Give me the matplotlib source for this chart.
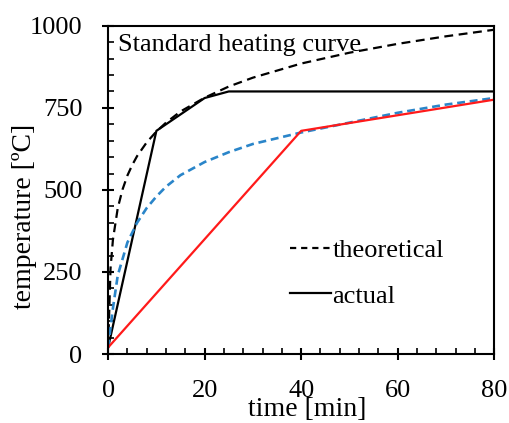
import matplotlib
matplotlib.use("Agg")
import matplotlib.pyplot as plt
from matplotlib.lines import Line2D
from matplotlib.ticker import MultipleLocator

plt.rcParams['font.family'] = ['Liberation Serif', 'DejaVu Serif']

# standard heating curve (theoretical, black dashed)
std_t = [0, 0.5, 1, 2, 3, 4, 5, 6, 8, 10, 12, 15, 20, 25, 30, 40, 50, 60, 70, 80]
std_T = [20, 261, 349, 445, 502, 544, 576, 603, 645, 678, 705, 739, 781, 815, 842, 885, 918, 945, 968, 988]

# actual furnace curve (black solid)
act_t = [0, 10, 20, 25, 80]
act_T = [20, 680, 780, 800, 800]

# blue dashed curve
blue_t = [0, 1, 2, 4, 6, 8, 10, 12, 15, 20, 25, 30, 40, 50, 60, 70, 80]
blue_T = [20, 140, 240, 340, 400, 445, 480, 510, 545, 585, 615, 640, 675, 705, 735, 760, 780]

# red solid curve
red_t = [0, 40, 80]
red_T = [20, 680, 775]

fig = plt.figure(figsize=(5.10, 4.23), dpi=100)
ax = fig.add_axes([0.212, 0.163, 0.757, 0.776])

ax.plot(std_t, std_T, color='black', lw=1.6, ls=(0, (4, 2.5)))
ax.plot(act_t, act_T, color='black', lw=1.6)
ax.plot(blue_t, blue_T, color='#2a85c9', lw=1.9, ls=(0, (3, 1.8)))
ax.plot(red_t, red_T, color='#ff1a1a', lw=1.6)

ax.set_xlim(0, 80)
ax.set_ylim(0, 1000)
ax.xaxis.set_major_locator(MultipleLocator(20))
ax.xaxis.set_minor_locator(MultipleLocator(4))
ax.yaxis.set_major_locator(MultipleLocator(250))
ax.yaxis.set_minor_locator(MultipleLocator(50))
ax.tick_params(which='major', direction='inout', length=9, width=1.5, labelsize=19)
ax.tick_params(axis='x', which='major', pad=14)
ax.tick_params(axis='y', which='major', pad=14)
ax.tick_params(which='minor', direction='in', length=4, width=1.2)
for s in ax.spines.values():
    s.set_linewidth(1.5)

ax.set_xlabel('time [min]', fontsize=20)
ax.xaxis.set_label_coords(0.515, -0.13)
ax.set_ylabel('temperature [ºC]', fontsize=20)
ax.yaxis.set_label_coords(-0.184, 0.42)

ax.text(2.0, 940, 'Standard heating curve', fontsize=19, va='center', ha='left')

handles = [Line2D([], [], color='black', lw=1.6, ls=(0, (2.8, 2.2))),
           Line2D([], [], color='black', lw=1.6)]
ax.legend(handles, ['theoretical', 'actual'], loc='center left',
          bbox_to_anchor=(0.41, 0.247), frameon=False, fontsize=19,
          handlelength=1.55, handletextpad=0.05, labelspacing=0.85)

fig.savefig('out.png', dpi=100)
